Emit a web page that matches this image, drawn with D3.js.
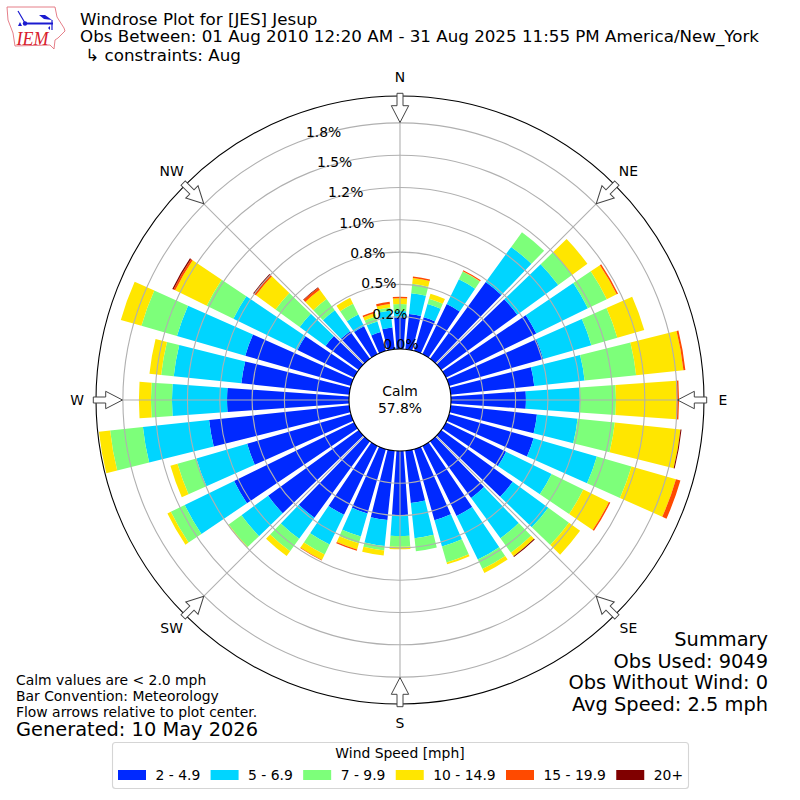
<!DOCTYPE html>
<meta charset="utf-8">
<style>
    html, body { margin:0; padding:0; background:#fff; }
    svg { display:block; }
    text { font-family:"DejaVu Sans", sans-serif; fill:#000; }
</style>
<script src="https://d3js.org/d3.v7.min.js"></script>
<div id="svg-holder"></div>
<script>
    // wind direction of each bar (deg), percent of obs in each speed band
    var directions = [0, 10, 20, 30, 40, 50, 60, 70, 80, 90, 100, 110, 120, 130, 140, 150, 160, 170,
        180, 190, 200, 210, 220, 230, 240, 250, 260, 270, 280, 290, 300, 310, 320, 330, 340, 350];
    var band2to5 = [.245, .275, .271, .431, .735, .727, .779, .759, .650, .580, .671, .681, .519, .683, .542, .604, .573, .407,
        .495, .540, .519, .594, .732, .867, 1.034, .836, 1.091, .944, .840, .851, .488, .317, .263, .240, .152, .170];
    var band5to7 = [.049, .161, .108, .214, .335, .392, .444, .387, .392, .418, .316, .509, .392, .341, .386, .375, .211, .274,
        .163, .201, .186, .255, .201, .255, .425, .409, .515, .426, .526, .550, .552, .248, .201, .101, .086, .132];
    var band7to10 = [.054, .073, .041, .067, .141, .132, .163, .209, .401, .279, .290, .279, .273, .198, .138, .082, .129, .101,
        .083, .035, .054, .086, .119, .122, .120, .152, .255, .163, .098, .286, .230, .231, .108, .093, .041, .023];
    var band10to15 = [.044, .045, .041, .002, 0, .147, .085, .217, .368, .470, .511, .358, .220, .106, .033, .034, .015, 0,
        .020, .039, .050, .048, .046, .006, .029, .057, .087, .093, .091, .166, .271, .187, .089, .051, .027, .027];
    var band15to20 = [.012, .012, 0, .009, 0, 0, .012, 0, .015, .018, 0, .036, .012, 0, 0, 0, 0, 0,
        0, 0, .009, .004, 0, 0, 0, 0, 0, 0, 0, 0, .015, .015, .019, 0, .012, .018];
    var band20up = [0, 0, 0, 0, 0, 0, 0, 0, 0, 0, .008, 0, 0, 0, .008, 0, 0, 0,
        0, 0, 0, 0, 0, 0, 0, 0, 0, 0, 0, 0, .010, .012, .005, 0, 0, 0];

    var band_labels = ["2 - 4.9", "5 - 6.9", "7 - 9.9", "10 - 14.9", "15 - 19.9", "20+"];
    var band_colors = ["#0029ff", "#00d5ff", "#7dff7a", "#ffe600", "#ff4a00", "#800000"];
    var ring_ticks = [0, .25, .5, .75, 1, 1.25, 1.5, 1.75];
    var ring_labels = ["0.0%", "0.2%", "0.5%", "0.8%", "1.0%", "1.2%", "1.5%", "1.8%"];
    var compass_names = ["N", "NE", "E", "SE", "S", "SW", "W", "NW"];
    var compass_degs = [0, 45, 90, 135, 180, 225, 270, 315];

    var title_lines = ["Windrose Plot for [JES] Jesup",
        "Obs Between: 01 Aug 2010 12:20 AM - 31 Aug 2025 11:55 PM America/New_York",
        " \u21b3 constraints: Aug"];
    var note_lines = ["Calm values are < 2.0 mph", "Bar Convention: Meteorology", "Flow arrows relative to plot center."];
    var summary_lines = ["Summary", "Obs Used: 9049", "Obs Without Wind: 0", "Avg Speed: 2.5 mph"];

    /* Frame. */
    var width = 800, height = 800;
    var cx = 400, cy = 400;
    var inner_r = 51, outer_r = 304;
    var bar_width = 8;    // degrees

    var frame = d3.select("#svg-holder").append("svg").attr("width", width).attr("height", height);
    var plot = frame.append("g").attr("transform", "translate(" + cx + "," + cy + ")");

    var r_scale = d3.scaleLinear().domain([0, 1.958]).range([inner_r, outer_r]);
    var a_scale = d3.scaleLinear().domain([0, 360]).range([0, 2 * Math.PI]);

    function polar(deg, r) {
        var a = a_scale(deg);
        return [r * Math.sin(a), -r * Math.cos(a)];
    }

    // Bars, one stacked layer per speed band.
    var rows = directions.map(function(d, i) {
        return { dir: d, b0: band2to5[i], b1: band5to7[i], b2: band7to10[i], b3: band10to15[i], b4: band15to20[i], b5: band20up[i] };
    });
    var layers = d3.stack().keys(["b0", "b1", "b2", "b3", "b4", "b5"])(rows);
    var arc = d3.arc()
        .innerRadius(function(d) { return r_scale(d[0]); })
        .outerRadius(function(d) { return r_scale(d[1]); })
        .startAngle(function(d) { return a_scale(d.data.dir - bar_width / 2); })
        .endAngle(function(d) { return a_scale(d.data.dir + bar_width / 2); });

    plot.selectAll("g.band").data(layers).enter().append("g")
        .attr("class", "band")
        .attr("fill", function(d, i) { return band_colors[i]; })
        .selectAll("path").data(function(d) { return d; }).enter().append("path")
        .attr("d", arc);

    // Grid goes over the bars.
    plot.selectAll("circle.ring").data(ring_ticks.slice(1)).enter().append("circle")
        .attr("class", "ring")
        .attr("r", function(d) { return r_scale(d); })
        .attr("fill", "none").attr("stroke", "#b0b0b0").attr("stroke-width", 1.1);

    compass_degs.forEach(function(d) {
        var p0 = polar(d, inner_r), p1 = polar(d, outer_r);
        plot.append("line")
            .attr("x1", p0[0]).attr("y1", p0[1]).attr("x2", p1[0]).attr("y2", p1[1])
            .attr("stroke", "#b0b0b0").attr("stroke-width", 1.1);
    });

    plot.append("circle").attr("r", outer_r).attr("fill", "none").attr("stroke", "#000").attr("stroke-width", 1.1);
    plot.append("circle").attr("r", inner_r).attr("fill", "#fff").attr("stroke", "#000").attr("stroke-width", 1.1);

    // Flow arrows, pointing at the plot center.
    compass_degs.forEach(function(d) {
        plot.append("path")
            .attr("transform", "rotate(" + d + ")")
            .attr("d", "M-3,-306.7 L3,-306.7 L3,-294.3 L8.7,-294.3 L0,-277.5 L-8.7,-294.3 L-3,-294.3 Z")
            .attr("fill", "#fff").attr("stroke", "#444").attr("stroke-width", 1);
    });

    // Compass names.
    compass_names.forEach(function(name, i) {
        var p = polar(compass_degs[i], 323);
        plot.append("text").attr("x", p[0]).attr("y", p[1] - 0.5).attr("dy", "0.36em")
            .attr("text-anchor", "middle").attr("font-size", "13.9px").text(name);
    });

    // Ring labels along the 340 degree line.
    ring_ticks.forEach(function(d, i) {
        var p = polar(340, r_scale(d));
        plot.append("text").attr("x", p[0] + 18.4).attr("y", p[1] - 8).attr("dy", "0.36em")
            .attr("text-anchor", "middle").attr("font-size", "13.9px").text(ring_labels[i]);
    });

    // Calm in the middle.
    plot.append("text").attr("y", -9).attr("dy", "0.36em").attr("text-anchor", "middle").attr("font-size", "13.9px").text("Calm");
    plot.append("text").attr("y", 7.5).attr("dy", "0.36em").attr("text-anchor", "middle").attr("font-size", "13.9px").text("57.8%");

    /* Header text and logo. */
    var title_y = [25, 42, 61];
    title_lines.forEach(function(t, i) {
        frame.append("text").attr("x", 80).attr("y", title_y[i])
            .attr("font-size", "16.7px").style("white-space", "pre").text(t);
    });

    var logo = frame.append("g");
    logo.append("path")
        .attr("d", "M7,7 L55,7 L57,17 L64,28 L65,31 L58,38 L55,40 L54,49 L50,45 L15,46 L13,33 L8,20 Z")
        .attr("fill", "#fff").attr("stroke", "#e2707c").attr("stroke-width", 0.9);
    logo.append("path").attr("d", "M26,23.5 L53,23.5").attr("stroke", "#1a1ad0").attr("stroke-width", 2).attr("fill", "none");
    logo.append("path").attr("d", "M18,11 L25,23 M52,20 L52,30").attr("stroke", "#1a1ad0").attr("stroke-width", 1.2).attr("fill", "none");
    logo.append("path").attr("d", "M39,15 L45,15 L52,20 L44,19 Z").attr("fill", "#1a1ad0");
    logo.append("path").attr("d", "M18,26 L20,22 L22,26 Z M48,28 L50,26 L50,30 Z").attr("fill", "#1a1ad0");
    logo.append("circle").attr("cx", 25).attr("cy", 23.5).attr("r", 2.2).attr("fill", "#1a1ad0");
    logo.append("text").attr("x", 16.5).attr("y", 44.5).attr("font-size", "18px")
        .style("font-family", "'Liberation Serif', serif").style("font-style", "italic").style("fill", "#d8202c").text("IEM");

    /* Notes, bottom left. */
    var note_y = [685, 701, 716.7];
    note_lines.forEach(function(t, i) {
        frame.append("text").attr("x", 16).attr("y", note_y[i]).attr("font-size", "13.9px").text(t);
    });
    frame.append("text").attr("x", 16).attr("y", 735.7).attr("font-size", "19.4px").text("Generated: 10 May 2026");

    /* Summary, bottom right. */
    var summary_y = [645.7, 667.7, 689, 711];
    summary_lines.forEach(function(t, i) {
        frame.append("text").attr("x", 768).attr("y", summary_y[i]).attr("text-anchor", "end").attr("font-size", "19.4px").text(t);
    });

    /* Legend. */
    var legend = frame.append("g");
    legend.append("rect").attr("x", 112.5).attr("y", 742.5).attr("width", 576).attr("height", 46).attr("rx", 3)
        .attr("fill", "#fff").attr("stroke", "#d5d5d5").attr("stroke-width", 1.1);
    legend.append("text").attr("x", 400).attr("y", 758).attr("text-anchor", "middle").attr("font-size", "13.9px").text("Wind Speed [mph]");
    var lx = 118;
    band_labels.forEach(function(t, i) {
        legend.append("rect").attr("x", lx).attr("y", 770).attr("width", 28).attr("height", 10).attr("fill", band_colors[i]);
        var label = legend.append("text").attr("x", lx + 37.5).attr("y", 780).attr("font-size", "13.9px").text(t);
        lx += 37.5 + label.node().getComputedTextLength() + 10.3;
    });
</script>
